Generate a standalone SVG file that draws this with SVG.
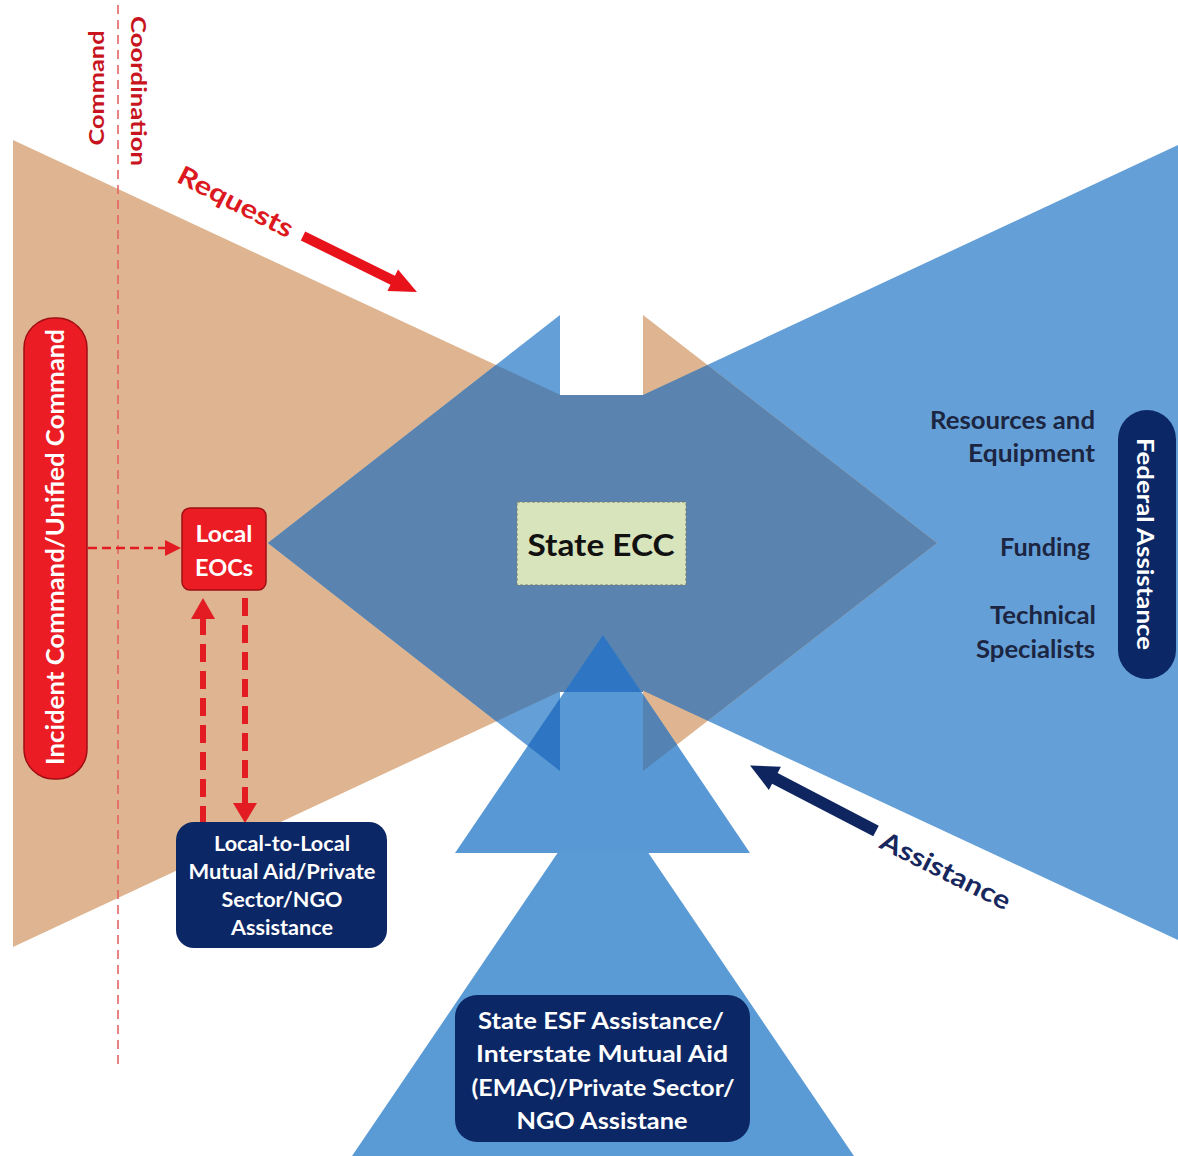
<svg xmlns="http://www.w3.org/2000/svg" width="1178" height="1156" viewBox="0 0 1178 1156">
<style>
text{font-family:Lato,"Liberation Sans",Arial,sans-serif;font-weight:bold}
.wt{fill:#ffffff}
.navy{fill:#0C2766}
.rt{fill:#1C2541;font-size:24px}
.tan{fill:#DEB590}
.lb{fill:#64A0D7}
.steel{fill:#5A84AF}
.dk{fill:#2E76C3}
.red{fill:#EC1C24;stroke:#A00E14;stroke-width:1.5}
</style>
<defs>
<polygon id="T1" points="13,140 13,947 878,543"/>
<polygon id="B1" points="1178,145 1178,940 326,543"/>
<polygon id="RL" points="268,543 560,315 560,771"/>
<polygon id="RR" points="643,315 937,543 643,771"/>
<rect id="RC" x="560" y="395" width="83" height="297"/>
<clipPath id="clipR"><polygon points="268,543 560,315 560,395 643,395 643,315 937,543 643,771 643,692 560,692 560,771"/></clipPath>
<clipPath id="clipA"><polygon points="455,853 603,635 750,853"/></clipPath>
</defs>
<rect width="1178" height="1156" fill="#ffffff"/>
<g id="background-shapes">
<use href="#T1" class="tan"/>
<use href="#B1" class="lb"/>
<use href="#RL" class="lb"/>
<use href="#RR" class="tan"/>
<g clip-path="url(#clipR)">
<use href="#T1" class="steel"/>
<use href="#B1" class="steel"/>
<use href="#RC" class="steel"/>
</g>
<polygon points="352,1156 603,786 854,1156" fill="#5B9BD5"/>
<polygon points="455,853 603,635 750,853" fill="#5898D4"/>
<g clip-path="url(#clipA)">
<use href="#T1" class="steel"/>
<use href="#RL" class="dk"/>
<use href="#RR" fill="#5482B2"/>
<use href="#RC" class="dk"/>
</g>
</g>
<g id="divider">
<line x1="118" y1="5" x2="118" y2="1068" stroke="#E46464" stroke-width="1.6" stroke-dasharray="9 6"/>
<text transform="translate(95,88) rotate(-90)" text-anchor="middle" dominant-baseline="central" font-size="21" fill="#C8141F" textLength="115" lengthAdjust="spacingAndGlyphs">Command</text>
<text transform="translate(139,91) rotate(90)" text-anchor="middle" dominant-baseline="central" font-size="21" fill="#C8141F" textLength="150" lengthAdjust="spacingAndGlyphs">Coordination</text>
</g>
<g id="connectors">
<line x1="88" y1="548" x2="168" y2="548" stroke="#E31B23" stroke-width="2.5" stroke-dasharray="9 5"/>
<polygon points="165,540 181,548 165,556" fill="#E31B23"/>
<line x1="203" y1="617" x2="203" y2="822" stroke="#E31B23" stroke-width="6" stroke-dasharray="18 9"/>
<polygon points="203,598 191,619 215,619" fill="#E31B23"/>
<line x1="245" y1="598" x2="245" y2="806" stroke="#E31B23" stroke-width="6" stroke-dasharray="18 9"/>
<polygon points="233,803 257,803 245,823" fill="#E31B23"/>
<g transform="translate(303,236) rotate(26.2)">
<polygon points="0,-5 100,-5 100,-12 127,0 100,12 100,5 0,5" fill="#E8121B"/>
</g>
<g transform="translate(876,831) rotate(207.5)">
<polygon points="0,-6 114,-6 114,-13 142,0 114,13 114,6 0,6" fill="#0F2560"/>
</g>
</g>
<g id="label-requests">
<text transform="translate(236,201) rotate(27)" text-anchor="middle" dominant-baseline="central" font-size="26" fill="#DC1820" textLength="126" lengthAdjust="spacingAndGlyphs">Requests</text>
</g>
<g id="label-assistance">
<text transform="translate(946,870) rotate(26.5)" text-anchor="middle" dominant-baseline="central" font-size="26" fill="#17275E" textLength="142" lengthAdjust="spacingAndGlyphs">Assistance</text>
</g>
<g id="node-incident-command">
<rect x="24" y="318" width="63" height="461" rx="30" class="red"/>
<text transform="translate(54,547) rotate(-90)" text-anchor="middle" dominant-baseline="central" font-size="24" class="wt" textLength="436" lengthAdjust="spacingAndGlyphs">Incident Command/Unified Command</text>
</g>
<g id="node-local-eocs">
<rect x="182" y="508" width="84" height="82" rx="8" class="red"/>
<text x="224" y="533" text-anchor="middle" dominant-baseline="central" font-size="22" class="wt" textLength="57" lengthAdjust="spacingAndGlyphs">Local</text>
<text x="224" y="567" text-anchor="middle" dominant-baseline="central" font-size="22" class="wt" textLength="58" lengthAdjust="spacingAndGlyphs">EOCs</text>
</g>
<g id="node-local-to-local">
<rect x="176" y="822" width="211" height="126" rx="18" class="navy"/>
<text x="282" y="843" text-anchor="middle" dominant-baseline="central" font-size="20" class="wt" textLength="136" lengthAdjust="spacingAndGlyphs">Local-to-Local</text>
<text x="282" y="871" text-anchor="middle" dominant-baseline="central" font-size="20" class="wt" textLength="187" lengthAdjust="spacingAndGlyphs">Mutual Aid/Private</text>
<text x="282" y="899" text-anchor="middle" dominant-baseline="central" font-size="20" class="wt" textLength="121" lengthAdjust="spacingAndGlyphs">Sector/NGO</text>
<text x="282" y="927" text-anchor="middle" dominant-baseline="central" font-size="20" class="wt" textLength="102" lengthAdjust="spacingAndGlyphs">Assistance</text>
</g>
<g id="node-state-ecc">
<rect x="517" y="502" width="169" height="83" fill="#D8E4BC" stroke="#7A7A6A" stroke-width="1" stroke-dasharray="3 2"/>
<text x="601" y="544" text-anchor="middle" dominant-baseline="central" font-size="30" fill="#111111" textLength="147" lengthAdjust="spacingAndGlyphs">State ECC</text>
</g>
<g id="node-federal-assistance">
<rect x="1118" y="410" width="58" height="269" rx="29" class="navy"/>
<text transform="translate(1146,544) rotate(90)" text-anchor="middle" dominant-baseline="central" font-size="23" class="wt" textLength="212" lengthAdjust="spacingAndGlyphs">Federal Assistance</text>
</g>
<g id="federal-items">
<text x="1095" y="419" text-anchor="end" dominant-baseline="central" class="rt" textLength="165" lengthAdjust="spacingAndGlyphs">Resources and</text>
<text x="1095" y="452" text-anchor="end" dominant-baseline="central" class="rt" textLength="127" lengthAdjust="spacingAndGlyphs">Equipment</text>
<text x="1090" y="546" text-anchor="end" dominant-baseline="central" class="rt" textLength="90" lengthAdjust="spacingAndGlyphs">Funding</text>
<text x="1096" y="614" text-anchor="end" dominant-baseline="central" class="rt" textLength="106" lengthAdjust="spacingAndGlyphs">Technical</text>
<text x="1095" y="648" text-anchor="end" dominant-baseline="central" class="rt" textLength="119" lengthAdjust="spacingAndGlyphs">Specialists</text>
</g>
<g id="node-state-esf">
<rect x="455" y="995" width="295" height="147" rx="22" class="navy"/>
<text x="601" y="1020" text-anchor="middle" dominant-baseline="central" font-size="23" class="wt" textLength="246" lengthAdjust="spacingAndGlyphs">State ESF Assistance/</text>
<text x="602" y="1053" text-anchor="middle" dominant-baseline="central" font-size="23" class="wt" textLength="252" lengthAdjust="spacingAndGlyphs">Interstate Mutual Aid</text>
<text x="603" y="1087" text-anchor="middle" dominant-baseline="central" font-size="23" class="wt" textLength="263" lengthAdjust="spacingAndGlyphs">(EMAC)/Private Sector/</text>
<text x="602" y="1120" text-anchor="middle" dominant-baseline="central" font-size="23" class="wt" textLength="171" lengthAdjust="spacingAndGlyphs">NGO Assistane</text>
</g>
</svg>
